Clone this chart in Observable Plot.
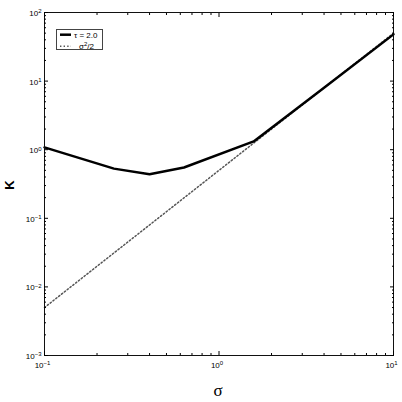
<!DOCTYPE html>
<html><head><meta charset="utf-8">
<script src="https://cdn.jsdelivr.net/npm/d3@7"></script>
<script src="https://cdn.jsdelivr.net/npm/@observablehq/plot@0.6"></script>
<style>html,body{margin:0;padding:0;background:#fff}#c{width:402px;height:402px}</style>
</head><body><div id="c"></div>
<script>
// τ = 2.0 curve
const sigmaTau = [0.1, 0.25, 0.4, 0.63, 1.58, 4.0, 10];
const kTau = [1.08, 0.53, 0.44, 0.55, 1.32, 8.0, 48];
// σ²/2 reference
const sigmaRef = [0.1, 1, 10];
const kRef = [0.005, 0.5, 50];
// ticks
const majorX = [0.1, 1, 10];
const minorX = [0.2, 0.3, 0.4, 0.5, 0.6, 0.7, 0.8, 0.9, 2, 3, 4, 5, 6, 7, 8, 9];
const majorY = [1e-3, 1e-2, 1e-1, 1, 10, 100];
const minorY = [2e-3,3e-3,4e-3,5e-3,6e-3,7e-3,8e-3,9e-3,
                2e-2,3e-2,4e-2,5e-2,6e-2,7e-2,8e-2,9e-2,
                0.2,0.3,0.4,0.5,0.6,0.7,0.8,0.9,
                2,3,4,5,6,7,8,9,20,30,40,50,60,70,80,90];
const seriesLabels = ["τ = 2.0", "σ", "2", "/2"];
const xTitle = "σ", yTitle = "K";

const tauData = sigmaTau.map((s, i) => ({s, k: kTau[i]}));
const refData = sigmaRef.map((s, i) => ({s, k: kRef[i]}));
const expFmt = d => "10^" + Math.round(Math.log10(d));
const noLab = () => "";
const dotStyle = {stroke: "#555", strokeWidth: 1.5, dash: "1.4,2.2"};

const chart = Plot.plot({
  width: 402, height: 402,
  marginLeft: 44, marginRight: 9, marginTop: 12, marginBottom: 47,
  x: {type: "log", domain: [0.1, 10]},
  y: {type: "log", domain: [1e-3, 100]},
  style: {fontFamily: "'Liberation Sans', Arial, sans-serif", fontSize: "8px", background: "#fff", color: "#000"},
  marks: [
    Plot.line(refData, {x: "s", y: "k", stroke: dotStyle.stroke, strokeWidth: dotStyle.strokeWidth, strokeDasharray: dotStyle.dash}),
    Plot.line(tauData, {x: "s", y: "k", stroke: "#000", strokeWidth: 2.5}),
    Plot.frame({stroke: "#111", strokeWidth: 1}),
    Plot.axisX(majorX, {anchor: "bottom", tickSize: -4, tickFormat: noLab, label: null}),
    Plot.axisX(minorX, {anchor: "bottom", tickSize: -2, tickFormat: noLab, label: null}),
    Plot.axisX(majorX, {anchor: "top", tickSize: -4, tickFormat: noLab, label: null}),
    Plot.axisX(minorX, {anchor: "top", tickSize: -2, tickFormat: noLab, label: null}),
    Plot.axisY(majorY, {anchor: "left", tickSize: -4, tickFormat: noLab, label: null}),
    Plot.axisY(minorY, {anchor: "left", tickSize: -2, tickFormat: noLab, label: null}),
    Plot.axisY(majorY, {anchor: "right", tickSize: -4, tickFormat: noLab, label: null}),
    Plot.axisY(minorY, {anchor: "right", tickSize: -2, tickFormat: noLab, label: null}),
    Plot.axisX(majorX, {anchor: "bottom", tickSize: 0, tickPadding: 7, tickFormat: expFmt, label: null, dx: -2}),
    Plot.axisY(majorY, {anchor: "left", tickSize: 0, tickPadding: 3, tickFormat: expFmt, label: null, dy: 1})
  ]
});
document.getElementById("c").appendChild(chart);

const svg = d3.select(chart);
// superscript exponents on tick labels
svg.selectAll("text").each(function() {
  const t = this.textContent;
  if (!t.startsWith("10^")) return;
  const e = t.slice(3).replace("-", "\u2212");
  const sel = d3.select(this);
  sel.text(null);
  sel.append("tspan").text("10");
  sel.append("tspan").attr("dy", "-0.45em").attr("font-size", "6px").text(e);
});

// axis titles
svg.append("text").attr("x", 218).attr("y", 396).attr("text-anchor", "middle")
  .attr("font-family", "'Liberation Serif', 'DejaVu Serif', serif").attr("font-size", 17).text(xTitle);
svg.append("text").attr("transform", "translate(13.5,185) rotate(-90)").attr("text-anchor", "middle")
  .attr("font-family", "'Liberation Sans', Arial, sans-serif").attr("font-weight", "bold").attr("font-size", 13).text(yTitle);

// legend
const lg = svg.append("g").attr("text-anchor", "start");
lg.append("rect").attr("x", 56.5).attr("y", 29.5).attr("width", 46).attr("height", 20)
  .attr("fill", "#fff").attr("stroke", "#444").attr("stroke-width", 1);
lg.append("line").attr("x1", 60).attr("x2", 71).attr("y1", 34.7).attr("y2", 34.7)
  .attr("stroke", "#000").attr("stroke-width", 2.5);
lg.append("text").attr("x", 74).attr("y", 37.5).attr("font-size", 8).attr("text-anchor", "start").text(seriesLabels[0]);
lg.append("line").attr("x1", 60).attr("x2", 71).attr("y1", 46.2).attr("y2", 46.2)
  .attr("stroke", dotStyle.stroke).attr("stroke-width", dotStyle.strokeWidth).attr("stroke-dasharray", dotStyle.dash);
const lt = lg.append("text").attr("x", 79).attr("y", 48.5).attr("font-size", 8).attr("text-anchor", "start");
lt.append("tspan").text(seriesLabels[1]);
lt.append("tspan").attr("dy", "-0.45em").attr("font-size", "6px").text(seriesLabels[2]);
lt.append("tspan").attr("dy", "0.45em").text(seriesLabels[3]);
</script>
</body></html>
